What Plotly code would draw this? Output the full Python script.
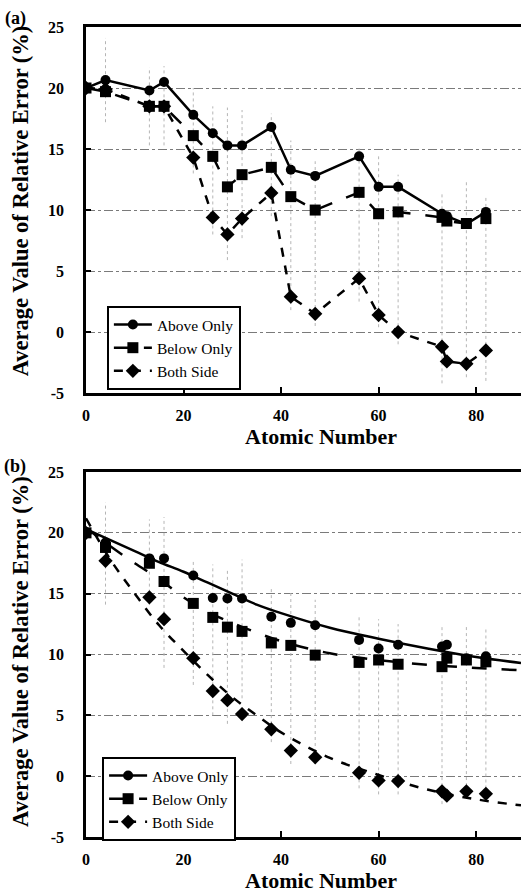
import plotly.graph_objects as go

# ---------------- data ----------------
Z = [0, 4, 13, 16, 22, 26, 29, 32, 38, 42, 47, 56, 60, 64, 73, 74, 78, 82]

# panel (a)
a_above = [20.0, 20.65, 19.8, 20.5, 17.8, 16.3, 15.3, 15.3, 16.8, 13.3, 12.8, 14.4, 11.9, 11.9, 9.7, 9.5, 8.85, 9.85]
a_below = [20.0, 19.7, 18.5, 18.5, 16.1, 14.4, 11.9, 12.9, 13.5, 11.1, 10.0, 11.45, 9.7, 9.85, 9.4, 9.1, 8.9, 9.3]
a_both = [20.0, 19.9, 18.5, 18.5, 14.3, 9.4, 8.0, 9.3, 11.4, 2.9, 1.5, 4.4, 1.4, 0.0, -1.2, -2.4, -2.6, -1.5]

a_err_x = [4, 13, 16, 22, 26, 29, 32, 38, 42, 47, 56, 60, 64, 73, 78, 82]
a_err_lo = [17.2, 15.3, 15.3, 13.0, 8.0, 5.9, 7.7, 9.5, 1.8, 0.5, 2.5, 0.4, -1.0, -4.2, -3.7, -4.0]
a_err_hi = [24.1, 21.7, 21.8, 20.0, 18.5, 18.4, 18.2, 17.9, 15.7, 14.0, 15.2, 14.4, 12.9, 11.4, 12.3, 11.0]

# panel (b)
b_above = [20.0, 19.2, 17.9, 17.9, 16.5, 14.65, 14.6, 14.6, 13.1, 12.6, 12.4, 11.2, 10.5, 10.8, 10.65, 10.8, 9.7, 9.85]
b_below = [20.0, 18.8, 17.5, 16.0, 14.2, 13.05, 12.25, 11.9, 10.95, 10.75, 9.95, 9.35, 9.55, 9.2, 9.0, 9.7, 9.55, 9.4]
b_both = [20.0, 17.7, 14.7, 12.9, 9.7, 7.0, 6.25, 5.1, 3.85, 2.1, 1.55, 0.28, -0.35, -0.4, -1.25, -1.6, -1.25, -1.45]

b_err_x = [4, 13, 16, 22, 26, 29, 32, 38, 42, 47, 56, 60, 64, 73, 78, 82]
b_err_lo = [14.1, 14.1, 8.9, 7.5, 5.0, 4.3, 6.4, 2.8, 1.0, 1.0, -1.0, -1.5, -1.5, -2.3, -1.8, -2.0]
b_err_hi = [22.5, 21.1, 21.3, 17.7, 17.4, 17.1, 17.8, 15.6, 15.1, 14.5, 13.3, 12.9, 12.5, 12.3, 12.45, 12.3]

# fitted curves in panel (b)
fit_x = [0, 5, 10, 15, 20, 25, 30, 35, 40, 50, 60, 70, 80, 89.2]
fit_above = [20.3, 19.4, 18.5, 17.6, 16.8, 15.9, 15.0, 14.1, 13.4, 12.2, 11.3, 10.5, 9.8, 9.3]
fit_below = [20.4, 18.9, 17.5, 16.2, 14.7, 13.5, 12.6, 11.8, 11.1, 10.1, 9.55, 9.15, 8.9, 8.7]
fit_both = [21.2, 17.8, 15.0, 12.4, 10.3, 8.3, 6.5, 5.0, 3.6, 1.5, 0.1, -1.1, -1.9, -2.4]

names = ["Above Only", "Below Only", "Both Side"]
symbols = ["circle", "square", "diamond"]
sizes = [10, 11, 11]
dashes = ["solid", "longdash", "dash"]
x_ticks = [0, 20, 40, 60, 80]
y_ticks = [-5, 0, 5, 10, 15, 20, 25]
y_ticktext = ["-5", "0", "5", "10", "15", "20", "25"]

SERIF = "Liberation Serif"

# ---------------- figure ----------------
fig = go.Figure()


def err_trace(xs, lo, hi, xa, ya):
    ex, ey = [], []
    for x, l, h in zip(xs, lo, hi):
        ex += [x, x, None]
        ey += [l, h, None]
    return go.Scatter(x=ex, y=ey, mode="lines", xaxis=xa, yaxis=ya,
                      line=dict(color="#b5b5b5", width=1, dash="dot"),
                      showlegend=False, hoverinfo="skip")


fig.add_trace(err_trace(a_err_x, a_err_lo, a_err_hi, "x", "y"))
fig.add_trace(err_trace(b_err_x, b_err_lo, b_err_hi, "x2", "y2"))

# panel (a)
for name, ys, sym, sz, dash in zip(names, [a_above, a_below, a_both], symbols, sizes, dashes):
    fig.add_trace(go.Scatter(
        x=Z, y=ys, name=name, mode="lines+markers", xaxis="x", yaxis="y",
        line=dict(color="black", width=2.5, dash=dash),
        marker=dict(symbol=sym, size=sz, color="black"),
        legend="legend"))

# panel (b): fit curves + markers
for ys, dash in zip([fit_above, fit_below, fit_both], dashes):
    fig.add_trace(go.Scatter(
        x=fit_x, y=ys, mode="lines", xaxis="x2", yaxis="y2",
        line=dict(color="black", width=2.5, dash=dash, shape="spline"),
        showlegend=False))
for name, ys, sym, sz in zip(names, [b_above, b_below, b_both], symbols, sizes):
    fig.add_trace(go.Scatter(
        x=Z, y=ys, mode="markers", xaxis="x2", yaxis="y2",
        marker=dict(symbol=sym, size=sz, color="black"),
        showlegend=False))
# legend entries for panel (b)
for name, sym, sz, dash in zip(names, symbols, sizes, dashes):
    fig.add_trace(go.Scatter(
        x=[None], y=[None], name=name, mode="lines+markers", xaxis="x2", yaxis="y2",
        line=dict(color="black", width=2.5, dash=dash),
        marker=dict(symbol=sym, size=sz, color="black"),
        legend="legend2"))

tickfont = dict(family=SERIF, size=16, color="black", weight="bold")
xcommon = dict(range=[0, 89.2], tickvals=x_ticks, showline=True, linecolor="black",
               linewidth=2.5, mirror=True, ticks="inside", ticklen=6, tickwidth=2,
               tickcolor="black", showgrid=False, zeroline=False, tickfont=tickfont,
               ticklabelstandoff=6)
ycommon = dict(range=[-5, 25], tickvals=y_ticks, ticktext=y_ticktext, showline=True,
               linecolor="black", linewidth=2.5, ticks="inside", ticklen=5, tickwidth=1.5,
               tickcolor="black", showgrid=True, gridcolor="#7a7a7a", gridwidth=1,
               griddash="dashdot", zeroline=False, tickfont=tickfont, ticklabelstandoff=16)

legcommon = dict(bgcolor="white", bordercolor="black", borderwidth=2,
                 font=dict(family=SERIF, size=15.5, color="black"),
                 xanchor="left", yanchor="top", itemwidth=38, tracegroupgap=0,
                 itemclick=False)

fig.update_layout(
    width=521, height=894,
    margin=dict(l=86, r=0, t=27, b=57),
    paper_bgcolor="white", plot_bgcolor="white",
    xaxis=dict(domain=[0, 1], anchor="y", **xcommon),
    yaxis=dict(domain=[0.548, 1], anchor="x", **ycommon),
    xaxis2=dict(domain=[0, 1], anchor="y2", **xcommon),
    yaxis2=dict(domain=[0, 0.4506], anchor="x2", **ycommon),
    legend=dict(x=0.048, y=0.6556, **legcommon),
    legend2=dict(x=0.037, y=0.0988, **legcommon),
    annotations=[
        dict(text="<b>(a)</b>", x=-0.163, y=1.011, xref="paper", yref="paper",
             showarrow=False, xanchor="center", yanchor="middle",
             font=dict(family=SERIF, size=18, color="black")),
        dict(text="<b>(b)</b>", x=-0.163, y=0.458, xref="paper", yref="paper",
             showarrow=False, xanchor="center", yanchor="middle",
             font=dict(family=SERIF, size=18, color="black")),
        dict(text="<b>Average Value of Relative Error (%)</b>", x=-0.152, y=0.786,
             xref="paper", yref="paper", showarrow=False, textangle=-90,
             xanchor="center", yanchor="middle",
             font=dict(family=SERIF, size=22.5, color="black")),
        dict(text="<b>Average Value of Relative Error (%)</b>", x=-0.152, y=0.2296,
             xref="paper", yref="paper", showarrow=False, textangle=-90,
             xanchor="center", yanchor="middle",
             font=dict(family=SERIF, size=22.5, color="black")),
        dict(text="<b>Atomic Number</b>", x=0.54, y=0.494, xref="paper", yref="paper",
             showarrow=False, xanchor="center", yanchor="middle",
             font=dict(family=SERIF, size=22, color="black")),
        dict(text="<b>Atomic Number</b>", x=0.54, y=-0.0543, xref="paper", yref="paper",
             showarrow=False, xanchor="center", yanchor="middle",
             font=dict(family=SERIF, size=22, color="black")),
    ],
)

fig.write_html("out.html")
